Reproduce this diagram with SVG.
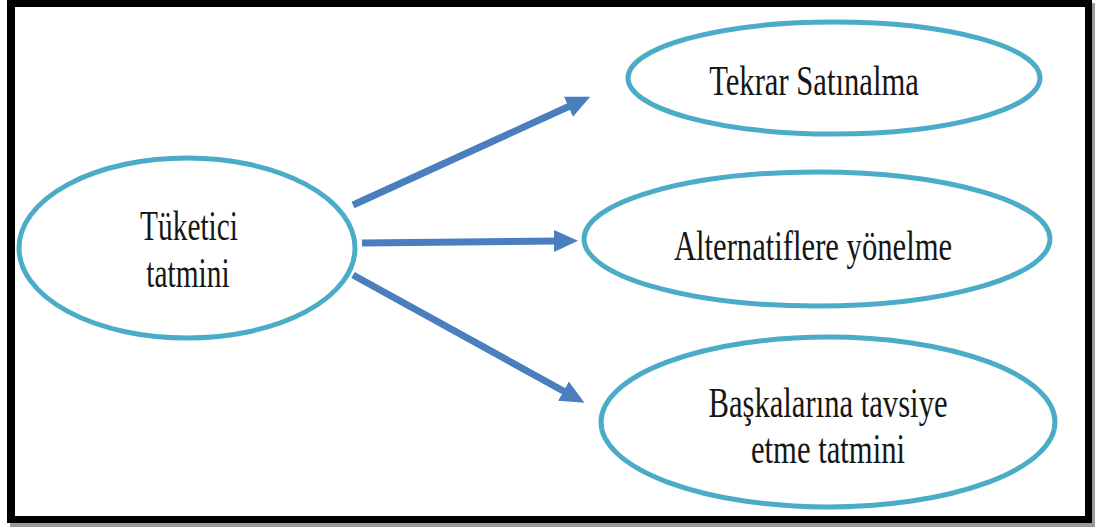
<svg xmlns="http://www.w3.org/2000/svg" width="1095" height="527" viewBox="0 0 1095 527">
  <style>
    .node ellipse { fill: #ffffff; stroke: #4aacc6; stroke-width: 5; }
    .node text { font-family: "Liberation Serif", "Times New Roman", serif; font-size: 42px; fill: #161616; text-anchor: middle; }
    .edge { stroke: #4a7ebf; stroke-width: 7; fill: none; }
  </style>
  <defs>
    <marker id="head" markerUnits="userSpaceOnUse" markerWidth="24" markerHeight="24" viewBox="0 0 24 24" refX="4" refY="12" orient="auto">
      <path d="M0,1 L24,12 L0,23 Z" fill="#4a7ebf"/>
    </marker>
  </defs>

  <!-- frame with drop shadow -->
  <rect x="10" y="3" width="1085" height="524" fill="#9a9a9a"/>
  <rect x="7" y="0" width="1085" height="523" fill="#000000"/>
  <rect x="15" y="7" width="1070" height="509" fill="#ffffff"/>

  <!-- connectors -->
  <g id="connectors">
    <line class="edge" x1="353" y1="205" x2="572" y2="105" marker-end="url(#head)"/>
    <line class="edge" x1="362" y1="243" x2="558" y2="241" marker-end="url(#head)"/>
    <line class="edge" x1="353" y1="275" x2="567" y2="393" marker-end="url(#head)"/>
  </g>

  <g id="node-tuketici" class="node">
    <ellipse cx="187" cy="248" rx="168" ry="90"/>
    <text transform="translate(189,240) scale(0.70,1)">Tüketici</text>
    <text transform="translate(188,287) scale(0.70,1)">tatmini</text>
  </g>

  <g id="node-tekrar" class="node">
    <ellipse cx="834" cy="78" rx="206" ry="56"/>
    <text transform="translate(814,95) scale(0.73,1)">Tekrar Satınalma</text>
  </g>

  <g id="node-alternatif" class="node">
    <ellipse cx="817" cy="239" rx="233" ry="67"/>
    <text transform="translate(813,260) scale(0.73,1)">Alternatiflere yönelme</text>
  </g>

  <g id="node-tavsiye" class="node">
    <ellipse cx="828" cy="422" rx="227" ry="85"/>
    <text transform="translate(828,417) scale(0.73,1)">Başkalarına tavsiye</text>
    <text transform="translate(828,463) scale(0.73,1)">etme tatmini</text>
  </g>
</svg>
